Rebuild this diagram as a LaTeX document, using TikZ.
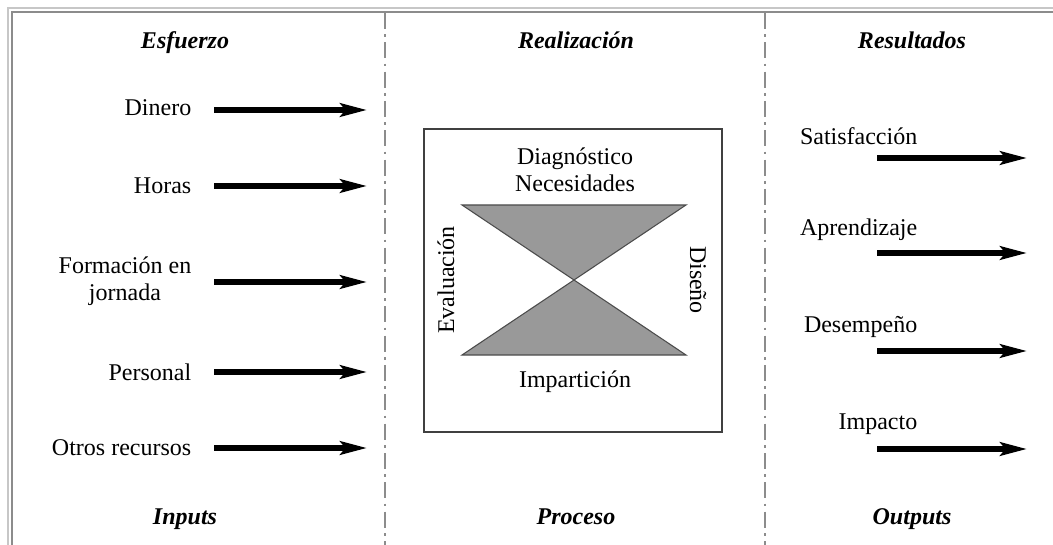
\documentclass[tikz,border=0pt]{standalone}
\usepackage{fontspec}
\setmainfont{Liberation Serif}
\usetikzlibrary{arrows.meta, positioning}

\begin{document}
\begin{tikzpicture}[
    x=0.75pt, y=-0.75pt,
    heading/.style={font=\fontsize{18}{20}\selectfont\bfseries\itshape, anchor=base},
    item/.style={font=\fontsize{18}{20}\selectfont, anchor=east, align=center},
    phase/.style={font=\fontsize{18}{20}\selectfont, align=center},
    arrow/.style={-{Stealth[length=20pt, width=10pt, inset=4pt]}, line width=4pt},
    divider/.style={draw=black!45, line width=2.2pt,
                    dash pattern=on 12pt off 4pt on 2pt off 4pt},
    frame/.style={line width=1.5pt}
]
\useasboundingbox (0,0) rectangle (1053,545);

% outer frame
\draw[frame, draw=black!22] (8,545) -- (8,8) -- (1053,8);
\draw[frame, draw=black!45] (12,545) -- (12,12) -- (1053,12);

% column dividers
\draw[divider] (385,13) -- (385,545);
\draw[divider] (765,13) -- (765,545);

% headings
\node[heading] (esf) at (185,49)  {Esfuerzo};
\node[heading] (rea) at (576,49)  {Realización};
\node[heading] (res) at (912,49)  {Resultados};
\node[heading] (inp) at (185,524) {Inputs};
\node[heading] (pro) at (576,524) {Proceso};
\node[heading] (out) at (912,524) {Outputs};

% inputs
\node[item] (din) at (196,108) {Dinero};
\node[item] (hor) at (196,186) {Horas};
\node[item] (for) at (196,281) {Formación en\\jornada};
\node[item] (per) at (196,372) {Personal};
\node[item] (otr) at (196,448) {Otros recursos};

\coordinate (din-a) at (214,110); \coordinate (din-b) at (367,110);
\coordinate (hor-a) at (214,186); \coordinate (hor-b) at (367,186);
\coordinate (for-a) at (214,282); \coordinate (for-b) at (367,282);
\coordinate (per-a) at (214,372); \coordinate (per-b) at (367,372);
\coordinate (otr-a) at (214,448); \coordinate (otr-b) at (367,448);

\draw[arrow] (din-a) -- (din-b);
\draw[arrow] (hor-a) -- (hor-b);
\draw[arrow] (for-a) -- (for-b);
\draw[arrow] (per-a) -- (per-b);
\draw[arrow] (otr-a) -- (otr-b);

% process
\node[draw=black!75, line width=1.2pt, minimum width=223.5pt,
      minimum height=227pt] (cyc) at (573,280.5) {};
\coordinate (apex) at (574,280);
\filldraw[fill=black!40, draw=black!70, line width=0.8pt]
    (462,205) -- (686,205) -- (apex) -- cycle;
\filldraw[fill=black!40, draw=black!70, line width=0.8pt]
    (apex) -- (686,355) -- (462,355) -- cycle;

\node[phase] (dia) at (575,170) {Diagnóstico\\Necesidades};
\node[phase] (imp) at (575,382) {Impartición};
\node[phase, rotate=90]  (eva) at (446,280) {Evaluación};
\node[phase, rotate=-90] (dis) at (698,280) {Diseño};

% outputs
\node[item] (sat) at (922,136) {Satisfacción};
\node[item] (apr) at (922,230) {Aprendizaje};
\node[item] (des) at (922,327) {Desempeño};
\node[item] (imc) at (922,424) {Impacto};

\coordinate (sat-a) at (877,158); \coordinate (sat-b) at (1027,158);
\coordinate (apr-a) at (877,253); \coordinate (apr-b) at (1027,253);
\coordinate (des-a) at (877,351); \coordinate (des-b) at (1027,351);
\coordinate (imc-a) at (877,449); \coordinate (imc-b) at (1027,449);

\draw[arrow] (sat-a) -- (sat-b);
\draw[arrow] (apr-a) -- (apr-b);
\draw[arrow] (des-a) -- (des-b);
\draw[arrow] (imc-a) -- (imc-b);
\end{tikzpicture}
\end{document}
